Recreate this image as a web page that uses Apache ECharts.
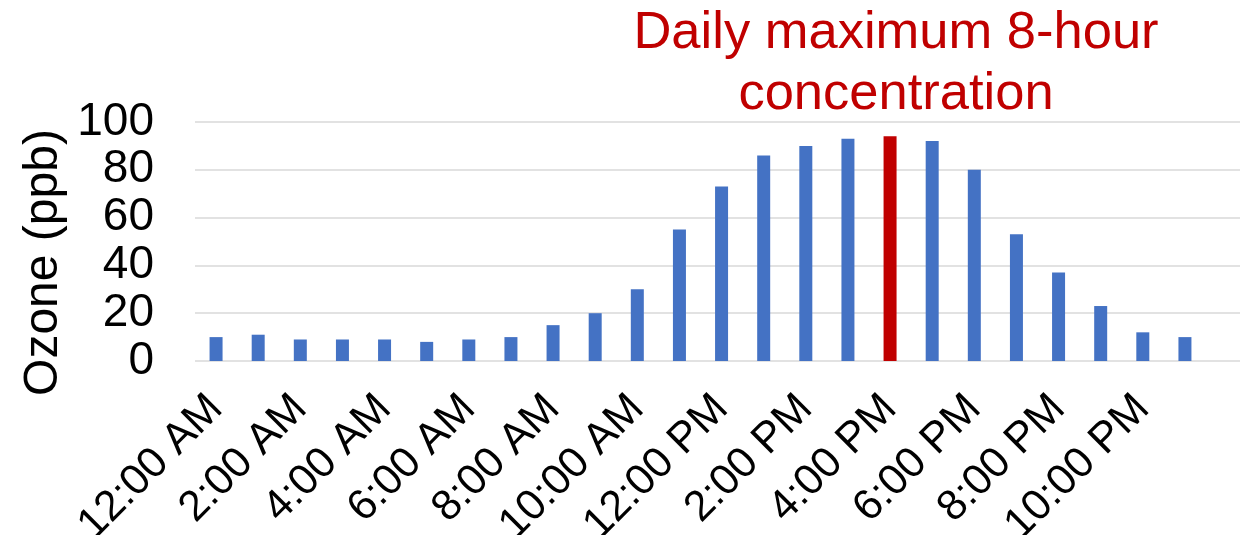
<!DOCTYPE html>
<html>
<head>
<meta charset="utf-8">
<script src="https://cdn.jsdelivr.net/npm/echarts@6/dist/echarts.min.js"></script>
<style>html,body{margin:0;padding:0;background:#fff}#c{width:1240px;height:535px}</style>
</head>
<body>
<div id="c"></div>
<script>
var categories = ['12:00 AM','1:00 AM','2:00 AM','3:00 AM','4:00 AM','5:00 AM','6:00 AM','7:00 AM','8:00 AM','9:00 AM','10:00 AM','11:00 AM',
  '12:00 PM','1:00 PM','2:00 PM','3:00 PM','4:00 PM','5:00 PM','6:00 PM','7:00 PM','8:00 PM','9:00 PM','10:00 PM','11:00 PM'];
var ozone = [10,11,9,9,9,8,9,10,15,20,30,55,73,86,90,93,94,92,80,53,37,23,12,10];
var maxIndex = 16;
var yTicks = [0,20,40,60,80,100];
var titleText = 'Daily maximum 8-hour\nconcentration';
var yName = 'Ozone (ppb)';

var FONT = '"Liberation Sans", Arial, sans-serif';
var chart = echarts.init(document.getElementById('c'), null, {renderer:'canvas'});
chart.setOption({
  animation: false,
  backgroundColor: '#ffffff',
  title: {
    text: titleText, left: 896, top: 3, textAlign: 'center', padding: 0,
    textStyle: {fontSize: 52.5, lineHeight: 61, color: '#C00000', fontWeight: 'normal', fontFamily: FONT}
  },
  graphic: [{
    type: 'text', x: 44, y: 262.5, rotation: Math.PI/2,
    style: {text: yName, font: '48px ' + FONT, fill: '#000', align: 'center', verticalAlign: 'middle'}
  }],
  grid: [
    {left: 195, right: 34, top: 122, bottom: 174, containLabel: false, outerBoundsMode: 'none'},
    {left: 195, right: 0, top: 122, bottom: 174, containLabel: false, outerBoundsMode: 'none'}
  ],
  xAxis: [
    {type: 'category', gridIndex: 0, data: categories,
     axisLine: {show: false}, axisTick: {show: false},
     axisLabel: {interval: 1, rotate: 45, fontSize: 43, color: '#000', fontFamily: FONT, margin: 41, hideOverlap: false}},
    {type: 'value', gridIndex: 1, min: 0, max: 1, show: false}
  ],
  yAxis: [
    {type: 'value', gridIndex: 0, min: yTicks[0], max: yTicks[yTicks.length-1], interval: 20,
     splitLine: {show: false}, axisLine: {show: false}, axisTick: {show: false},
     axisLabel: {fontSize: 46, color: '#000', fontFamily: FONT, margin: 41, showMinLabel: true, showMaxLabel: true, hideOverlap: false}},
    {type: 'value', gridIndex: 1, min: yTicks[0], max: yTicks[yTicks.length-1], interval: 20,
     splitLine: {show: true, lineStyle: {color: '#d9d9d9', width: 1.5}},
     axisLine: {show: false}, axisTick: {show: false}, axisLabel: {show: false}}
  ],
  series: [{
    type: 'bar', xAxisIndex: 0, yAxisIndex: 0, barWidth: 13,
    data: ozone.map(function(v, i){
      return {value: v, itemStyle: {color: i === maxIndex ? '#C00000' : '#4472C4'}};
    })
  }]
});
</script>
</body>
</html>
